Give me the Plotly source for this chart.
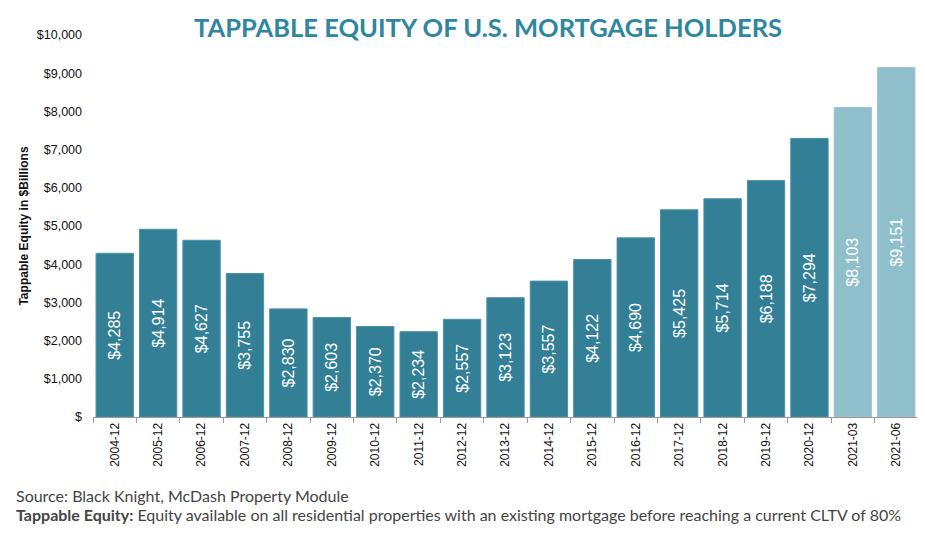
import plotly.graph_objects as go

periods = ["2004-12", "2005-12", "2006-12", "2007-12", "2008-12", "2009-12", "2010-12",
           "2011-12", "2012-12", "2013-12", "2014-12", "2015-12", "2016-12", "2017-12",
           "2018-12", "2019-12", "2020-12", "2021-03", "2021-06"]
equity = [4285, 4914, 4627, 3755, 2830, 2603, 2370, 2234, 2557, 3123, 3557, 4122,
          4690, 5425, 5714, 6188, 7294, 8103, 9151]
tick_vals = [0, 1000, 2000, 3000, 4000, 5000, 6000, 7000, 8000, 9000, 10000]
tick_text = ["$", "$1,000", "$2,000", "$3,000", "$4,000", "$5,000", "$6,000",
             "$7,000", "$8,000", "$9,000", "$10,000"]

dark = "#337f96"
light = "#8ebfcb"
colors = [light if p.startswith("2021") else dark for p in periods]
edges = ["#9cc8d3" if p.startswith("2021") else "#4b92a7" for p in periods]

fig = go.Figure(go.Bar(
    x=periods, y=equity,
    marker=dict(color=colors, line=dict(width=1, color=edges)),
    text=[f"${v:,}" for v in equity],
    textposition="inside", insidetextanchor="middle", textangle=-90,
    textfont=dict(family="Liberation Sans, Arial", size=16, color="white"),
    width=0.86,
))

fig.update_layout(
    width=925, height=534,
    margin=dict(l=85, r=15, t=27, b=125),
    paper_bgcolor="white", plot_bgcolor="white",
    showlegend=False,
    title=dict(text="<b>TAPPABLE EQUITY OF U.S. MORTGAGE HOLDERS</b>",
               x=0.519, xanchor="center", y=0.9625, yanchor="middle",
               font=dict(family="Lato, Open Sans", size=25.5, color="#2f86a0")),
    uniformtext=dict(mode=False),
)
fig.update_xaxes(
    type="category", tickangle=-90, tickson="boundaries",
    ticks="outside", ticklen=5, tickcolor="#999999",
    showline=True, linecolor="#999999", linewidth=1,
    tickfont=dict(family="Liberation Sans, Arial", size=12, color="#111111"),
    showgrid=False, automargin=False,
)
fig.update_yaxes(
    range=[0, 10000], tickvals=tick_vals, ticktext=tick_text,
    showgrid=False, zeroline=False, showline=False,
    tickfont=dict(family="Liberation Sans, Arial", size=12.5, color="#111111"),
    title=dict(text="<b>Tappable Equity in $Billions</b>", standoff=5,
               font=dict(family="Liberation Sans, Arial", size=12, color="#111111")),
    ticklabelstandoff=10, automargin=False,
)

fig.add_annotation(xref="paper", yref="paper", x=-0.0958, y=-0.205, xanchor="left", yanchor="middle",
                   text="Source: Black Knight, McDash Property Module", showarrow=False,
                   font=dict(family="Lato, Open Sans", size=16, color="#444444"))
fig.add_annotation(xref="paper", yref="paper", x=-0.0958, y=-0.256, xanchor="left", yanchor="middle",
                   text="<b>Tappable Equity:</b> Equity available on all residential properties with an existing mortgage before reaching a current CLTV of 80%",
                   showarrow=False,
                   font=dict(family="Lato, Open Sans", size=16, color="#444444"))

fig.write_html("out.html")
